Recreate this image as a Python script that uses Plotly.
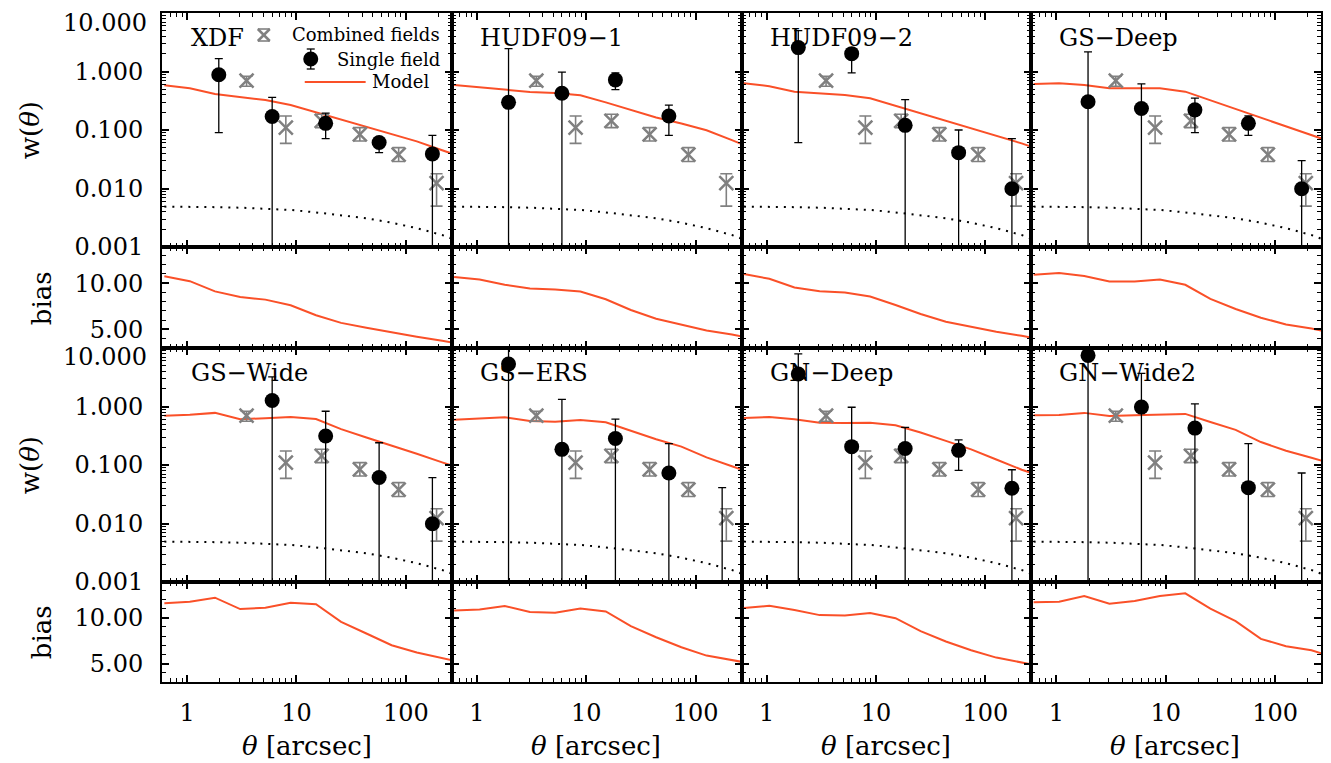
import math
import plotly.graph_objects as go
from plotly.subplots import make_subplots

# ---------------- data ----------------
fields = ["XDF", "HUDF09−1", "HUDF09−2", "GS−Deep", "GS−Wide", "GS−ERS", "GN−Deep", "GN−Wide2"]

# model grid (arcsec)
theta_model = [0.62, 1.06, 1.8, 3.06, 5.2, 8.85, 15.1, 25.6, 43.6, 74.2, 126, 215, 366]

w_model_xdf = [0.583, 0.518, 0.413, 0.362, 0.325, 0.267, 0.200, 0.149, 0.113, 0.085, 0.064, 0.045, 0.032]
w_model_hudf1 = [0.590, 0.538, 0.483, 0.447, 0.430, 0.392, 0.297, 0.219, 0.164, 0.129, 0.099, 0.067, 0.045]
w_model_hudf2 = [0.631, 0.560, 0.452, 0.418, 0.396, 0.348, 0.259, 0.192, 0.143, 0.106, 0.079, 0.059, 0.042]
w_model_gsdeep = [0.614, 0.631, 0.590, 0.518, 0.518, 0.518, 0.452, 0.321, 0.227, 0.161, 0.115, 0.081, 0.058]
w_model_gswide = [0.698, 0.726, 0.778, 0.605, 0.630, 0.663, 0.612, 0.411, 0.295, 0.217, 0.156, 0.111, 0.080]
w_model_gsers = [0.595, 0.620, 0.655, 0.565, 0.550, 0.589, 0.537, 0.384, 0.275, 0.206, 0.135, 0.095, 0.068]
w_model_gndeep = [0.637, 0.663, 0.605, 0.528, 0.521, 0.528, 0.476, 0.360, 0.258, 0.185, 0.124, 0.083, 0.060]
w_model_gnwide2 = [0.708, 0.718, 0.778, 0.690, 0.708, 0.726, 0.747, 0.543, 0.399, 0.247, 0.175, 0.133, 0.100]

bias_xdf = [10.75, 10.21, 9.11, 8.50, 8.22, 7.61, 6.54, 5.71, 5.18, 4.68, 4.21, 3.78, 3.3]
bias_hudf1 = [10.65, 10.40, 9.82, 9.42, 9.31, 9.09, 8.26, 7.10, 6.16, 5.54, 4.89, 4.46, 3.9]
bias_hudf2 = [10.98, 10.47, 9.53, 9.13, 8.99, 8.55, 7.64, 6.67, 5.83, 5.29, 4.75, 4.31, 3.8]
bias_gsdeep = [10.91, 11.09, 10.76, 10.18, 10.18, 10.40, 9.82, 8.30, 7.21, 6.27, 5.54, 5.11, 4.5]
bias_gswide = [11.58, 11.75, 12.19, 10.95, 11.10, 11.64, 11.47, 9.56, 8.29, 7.01, 6.21, 5.66, 5.0]
bias_gsers = [10.80, 10.91, 11.28, 10.62, 10.55, 11.02, 10.69, 9.09, 7.88, 6.79, 5.88, 5.44, 4.9]
bias_gndeep = [11.06, 11.31, 10.84, 10.29, 10.26, 10.51, 9.96, 8.54, 7.41, 6.46, 5.66, 5.15, 4.6]
bias_gnwide2 = [11.68, 11.75, 12.37, 11.53, 11.82, 12.37, 12.66, 10.99, 9.64, 7.70, 6.90, 6.46, 5.6]

# dark-matter correlation (dotted)
w_dm = [0.0049, 0.0049, 0.0048, 0.0047, 0.0045, 0.0043, 0.0039, 0.0035, 0.0031, 0.0026, 0.0021, 0.0016, 0.0011]

# combined fields
cf_theta = [3.5, 8.0, 17.0, 38, 86, 191]
cf_w = [0.70, 0.11, 0.143, 0.084, 0.038, 0.0124]
cf_hi = [0.83, 0.174, 0.186, 0.110, 0.050, 0.0179]
cf_lo = [0.56, 0.059, 0.110, 0.065, 0.029, 0.0050]

# single field  (lower bound 0 => error bar reaches below the axis)
sf_theta = [1.95, 6.0, 18.5, 57, 175]
sf_w_xdf = [0.88, 0.17, 0.13, 0.061, 0.039]
sf_hi_xdf = [1.66, 0.362, 0.194, 0.074, 0.081]
sf_lo_xdf = [0.090, 0, 0.071, 0.041, 0]
sf_w_hudf1 = [0.297, 0.424, 0.719, 0.174, None]
sf_hi_hudf1 = [2.46, 0.977, 0.95, 0.267, None]
sf_lo_hudf1 = [0, 0, 0.49, 0.081, None]
sf_w_hudf2 = [2.56, 2.02, 0.12, 0.041, 0.0099]
sf_hi_hudf2 = [5.0, 2.4, 0.33, 0.10, 0.071]
sf_lo_hudf2 = [0.061, 0.95, 0, 0, 0]
sf_w_gsdeep = [0.304, 0.233, 0.221, 0.130, 0.0099]
sf_hi_gsdeep = [2.16, 0.614, 0.352, 0.174, 0.030]
sf_lo_gsdeep = [0, 0, 0.090, 0.081, 0]
sf_w_gswide = [None, 1.27, 0.314, 0.061, 0.0099]
sf_hi_gswide = [None, 3.2, 0.83, 0.24, 0.061]
sf_lo_gswide = [None, 0, 0, 0, 0]
sf_w_gsers = [5.34, 0.185, 0.283, 0.073, 0.0003]
sf_hi_gsers = [20, 1.32, 0.61, 0.232, 0.041]
sf_lo_gsers = [0, 0, 0, 0, 0]
sf_w_gndeep = [3.59, 0.206, 0.192, 0.178, 0.040]
sf_hi_gndeep = [7.96, 0.97, 0.44, 0.268, 0.083]
sf_lo_gndeep = [0, 0, 0, 0.081, 0]
sf_w_gnwide2 = [7.47, 0.977, 0.427, 0.041, 0.0003]
sf_hi_gnwide2 = [20, 3.69, 1.11, 0.232, 0.073]
sf_lo_gnwide2 = [0, 0, 0, 0, 0]

# tick labels
w_tickvals = [0.001, 0.01, 0.1, 1, 10]
w_ticktext = ["0.001", "0.010", "0.100", "1.000", ""]
w_top_label = "10.000"
x_tickvals = [1, 10, 100]
x_ticktext = ["1", "10", "100"]

w_models = [w_model_xdf, w_model_hudf1, w_model_hudf2, w_model_gsdeep,
            w_model_gswide, w_model_gsers, w_model_gndeep, w_model_gnwide2]
biases = [bias_xdf, bias_hudf1, bias_hudf2, bias_gsdeep,
          bias_gswide, bias_gsers, bias_gndeep, bias_gnwide2]
sf_ws = [sf_w_xdf, sf_w_hudf1, sf_w_hudf2, sf_w_gsdeep, sf_w_gswide, sf_w_gsers, sf_w_gndeep, sf_w_gnwide2]
sf_his = [sf_hi_xdf, sf_hi_hudf1, sf_hi_hudf2, sf_hi_gsdeep, sf_hi_gswide, sf_hi_gsers, sf_hi_gndeep, sf_hi_gnwide2]
sf_los = [sf_lo_xdf, sf_lo_hudf1, sf_lo_hudf2, sf_lo_gsdeep, sf_lo_gswide, sf_lo_gsers, sf_lo_gndeep, sf_lo_gnwide2]

# ---------------- style ----------------
W, H = 1331, 763
ML, MR, MT, MB = 162, 8, 13, 81
PW, PH = W - ML - MR, H - MT - MB
FONT = "DejaVu Serif"
ORANGE = "#fa5028"
GRAY = "#808080"

def px(x):
    return (x - ML) / PW

def py(y):
    return (H - MB - y) / PH

def log_minor_vals(e0, e1):
    return [k * 10 ** e for e in range(e0, e1) for k in range(2, 10)]

fig = make_subplots(rows=4, cols=4, horizontal_spacing=0, vertical_spacing=0,
                    row_heights=[234, 101, 234, 100])

for i, name in enumerate(fields):
    r = 1 if i < 4 else 3
    c = i % 4 + 1
    # dark matter dotted
    fig.add_trace(go.Scatter(x=theta_model, y=w_dm, mode="lines",
                             line=dict(color="black", width=2, dash="2px,6px"),
                             showlegend=False, hoverinfo="skip"), row=r, col=c)
    # model
    fig.add_trace(go.Scatter(x=theta_model, y=w_models[i], mode="lines",
                             line=dict(color=ORANGE, width=2),
                             showlegend=False), row=r, col=c)
    # combined fields
    fig.add_trace(go.Scatter(
        x=cf_theta, y=cf_w, mode="markers",
        marker=dict(symbol="x-thin-open", size=14, color=GRAY, line=dict(width=2.5, color=GRAY)),
        error_y=dict(type="data", symmetric=False,
                     array=[h - v for h, v in zip(cf_hi, cf_w)],
                     arrayminus=[v - l for l, v in zip(cf_lo, cf_w)],
                     color=GRAY, thickness=1.6, width=6),
        showlegend=False), row=r, col=c)
    # single field
    xs, ys, up, dn = [], [], [], []
    for t, v, h, l in zip(sf_theta, sf_ws[i], sf_his[i], sf_los[i]):
        if v is None:
            continue
        xs.append(t)
        ys.append(v)
        up.append(h - v)
        dn.append(v - (l if l > 0 else 1e-7))
    fig.add_trace(go.Scatter(
        x=xs, y=ys, mode="markers",
        marker=dict(symbol="circle", size=15, color="black"),
        error_y=dict(type="data", symmetric=False, array=up, arrayminus=dn,
                     color="black", thickness=1.3, width=4),
        showlegend=False), row=r, col=c)
    # bias
    fig.add_trace(go.Scatter(x=theta_model, y=biases[i], mode="lines",
                             line=dict(color=ORANGE, width=2),
                             showlegend=False), row=r + 1, col=c)

axis_common = dict(showline=True, linewidth=2, linecolor="black", mirror="allticks",
                   ticks="inside", ticklen=7, tickwidth=1.5, tickcolor="black",
                   showgrid=False, zeroline=False,
                   tickfont=dict(family=FONT, size=24, color="black"))

for r in range(1, 5):
    for c in range(1, 5):
        fig.update_xaxes(type="log", range=[math.log10(0.59), math.log10(263)],
                         tickmode="array", tickvals=x_tickvals, ticktext=x_ticktext,
                         minor=dict(ticks="inside", ticklen=4, tickwidth=1, tickcolor="black",
                                    showgrid=False, tickmode="array",
                                    tickvals=log_minor_vals(-1, 3)),
                         showticklabels=(r == 4), ticklabelstandoff=8,
                         row=r, col=c, **axis_common)
        if r in (1, 3):
            fig.update_yaxes(type="log", range=[-3, 1.0],
                             tickmode="array", tickvals=w_tickvals, ticktext=w_ticktext,
                             minor=dict(ticks="inside", ticklen=4, tickwidth=1, tickcolor="black",
                                        showgrid=False, tickmode="array",
                                        tickvals=log_minor_vals(-3, 1)),
                             showticklabels=(c == 1), ticklabelstandoff=12,
                             row=r, col=c, **axis_common)
        else:
            fig.update_yaxes(type="linear", range=[3, 13.9], tickmode="linear", dtick=5, tick0=0,
                             tickformat=".2f",
                             minor=dict(ticks="inside", ticklen=4, tickwidth=1, tickcolor="black",
                                        dtick=1, tick0=0, showgrid=False),
                             showticklabels=(c == 1), ticklabelstandoff=12,
                             row=r, col=c, **axis_common)

annotations = []
shapes = []
col_left = [162, 452, 742, 1032]
col_w = 290
# panel labels
for i, name in enumerate(fields):
    c = i % 4
    ytop = 38 if i < 4 else 373
    annotations.append(dict(x=px(col_left[c] + 27), y=py(ytop), xref="paper", yref="paper",
                            text=name, showarrow=False, xanchor="left", yanchor="middle",
                            font=dict(family=FONT, size=24, color="black")))
# top w tick labels (nudged inside like the original)
for ylab in (23, 357):
    annotations.append(dict(x=px(149), y=py(ylab), xref="paper", yref="paper",
                            text=w_top_label, showarrow=False, xanchor="right", yanchor="middle",
                            font=dict(family=FONT, size=24, color="black")))
# axis titles
for c in range(4):
    annotations.append(dict(x=px(col_left[c] + col_w / 2), y=py(746), xref="paper", yref="paper",
                            text="<i>θ</i> [arcsec]", showarrow=False, xanchor="center", yanchor="middle",
                            font=dict(family=FONT, size=26, color="black")))
for ycen in (130, 465):
    annotations.append(dict(x=px(30), y=py(ycen), xref="paper", yref="paper",
                            text="w(<i>θ</i>)", showarrow=False, textangle=-90,
                            xanchor="center", yanchor="middle",
                            font=dict(family=FONT, size=26, color="black")))
for ycen in (298, 632):
    annotations.append(dict(x=px(42), y=py(ycen), xref="paper", yref="paper",
                            text="bias", showarrow=False, textangle=-90,
                            xanchor="center", yanchor="middle",
                            font=dict(family=FONT, size=26, color="black")))

# legend (XDF panel)
leg_font = dict(family=FONT, size=18, color="black")
annotations.append(dict(x=px(442), y=py(35), xref="paper", yref="paper", text="Combined fields",
                        showarrow=False, xanchor="right", yanchor="middle", font=leg_font))
annotations.append(dict(x=px(442), y=py(59), xref="paper", yref="paper", text="Single field",
                        showarrow=False, xanchor="right", yanchor="middle", font=leg_font))
annotations.append(dict(x=px(431), y=py(82), xref="paper", yref="paper", text="Model",
                        showarrow=False, xanchor="right", yanchor="middle", font=leg_font))

def pshape(kind, cx, cy, x0, y0, x1, y1, **kw):
    d = dict(type=kind, xref="paper", yref="paper", xsizemode="pixel", ysizemode="pixel",
             xanchor=px(cx), yanchor=py(cy), x0=x0, x1=x1, y0=y0, y1=y1)
    d.update(kw)
    return d

# combined-fields symbol
gl = dict(color=GRAY, width=2.5)
shapes.append(pshape("line", 264, 35, -6, -6, 6, 6, line=gl))
shapes.append(pshape("line", 264, 35, -6, 6, 6, -6, line=gl))
shapes.append(pshape("line", 264, 35, -6, 6, 6, 6, line=dict(color=GRAY, width=1.6)))
shapes.append(pshape("line", 264, 35, -6, -6, 6, -6, line=dict(color=GRAY, width=1.6)))
# single-field symbol
bl = dict(color="black", width=1.3)
shapes.append(pshape("line", 311, 59, 0, -10, 0, 10, line=bl))
shapes.append(pshape("line", 311, 59, -4, 10, 4, 10, line=bl))
shapes.append(pshape("line", 311, 59, -4, -10, 4, -10, line=bl))
shapes.append(pshape("circle", 311, 59, -7.5, -7.5, 7.5, 7.5, line=dict(width=0), fillcolor="black"))
# model symbol
shapes.append(dict(type="line", xref="paper", yref="paper", x0=px(305), x1=px(366),
                   y0=py(82), y1=py(82), line=dict(color=ORANGE, width=2)))

fig.update_layout(width=W, height=H, margin=dict(l=ML, r=MR, t=MT, b=MB),
                  paper_bgcolor="white", plot_bgcolor="white", showlegend=False,
                  annotations=annotations, shapes=shapes,
                  font=dict(family=FONT, color="black"))

fig.write_html("out.html", config={"displayModeBar": False},
               post_script="document.body.style.margin='0';document.body.style.overflow='hidden';")
